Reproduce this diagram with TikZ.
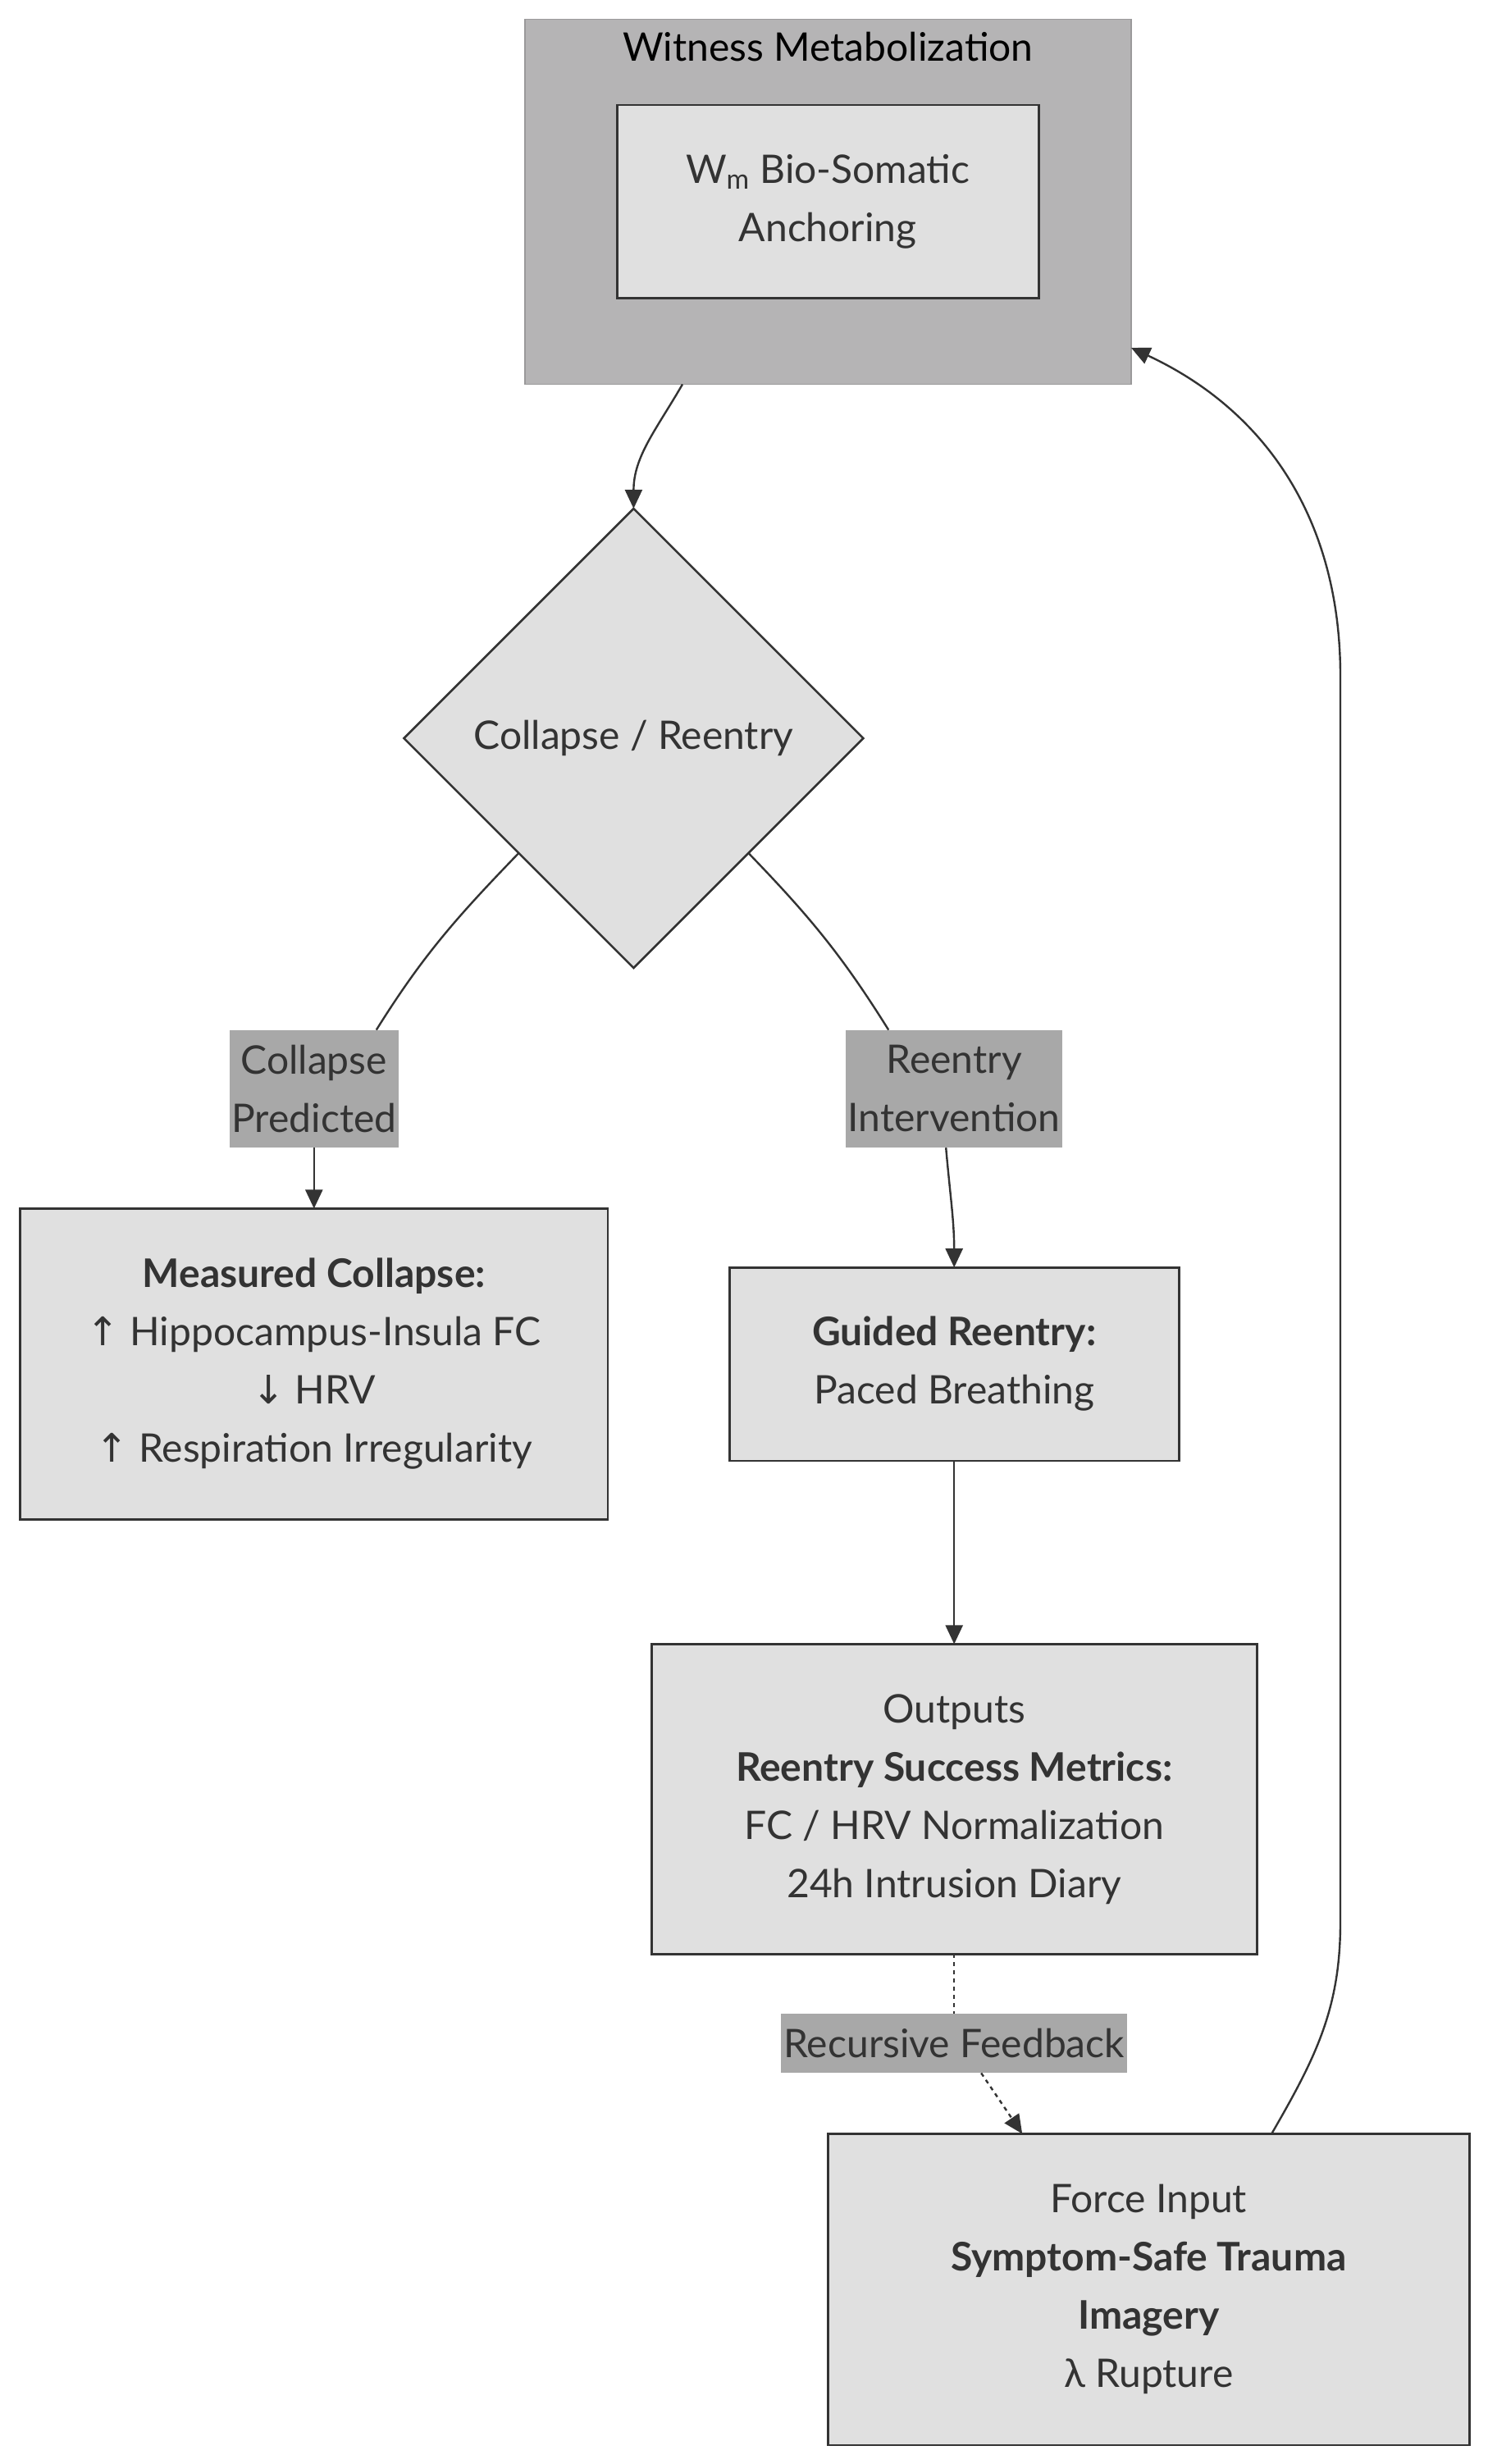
\documentclass[tikz,border=0pt]{standalone}
\usepackage{fontspec}
\setmainfont{Lato}
\newfontfamily\arrowfont{DejaVu Sans}
\usepackage{tikz}
\usetikzlibrary{shapes.geometric, arrows.meta, positioning}
\definecolor{boxgray}{HTML}{E0E0E0}
\definecolor{clustergray}{HTML}{B5B4B5}
\definecolor{labelgray}{HTML}{A8A8A8}
\definecolor{inkgray}{HTML}{333333}
\tikzset{
  box/.style={draw=inkgray, line width=1.3pt, fill=boxgray, text=inkgray, align=center, inner sep=0pt, outer sep=0pt},
  lbl/.style={fill=labelgray, text=inkgray, align=center, inner sep=0pt, outer sep=0pt},
  link/.style={draw=inkgray, line width=1.2pt},
  arr/.style={link, -{Triangle[length=11.5pt,width=10.5pt]}},
}
\begin{document}
\begin{tikzpicture}[x=1pt, y=1pt, font=\fontsize{24}{35.5}\selectfont]
\useasboundingbox (0,0) rectangle (907,-1502);
\node[fill=clustergray, draw=clustergray!85!black, line width=0.9pt, outer sep=0pt, minimum width=369.6pt, minimum height=222.5pt] (wm) at (504.7,-123) {};
\node[text=black] (wmtitle) at ([yshift=-16.6pt]wm.north) {Witness Metabolization};
\node[box, minimum width=257pt, minimum height=117.7pt] (wmbio) at (504.6,-122.8) {W$_\mathrm{m}$ Bio-Somatic\\Anchoring};
\node[box, diamond, minimum size=280pt] (cr) at (386.2,-450) {Collapse / Reentry};
\node[lbl, minimum width=103.3pt, minimum height=71.8pt] (cp) at (191.4,-663.7) {Collapse\\Predicted};
\node[lbl, minimum width=132pt, minimum height=71.8pt] (ri) at (581.6,-663.7) {Reentry\\Intervention};
\node[box, minimum width=358.3pt, minimum height=189.4pt, below=37.1pt of cp] (mc) {\textbf{Measured Collapse:}\\{\arrowfont↑} Hippocampus-Insula FC\\{\arrowfont↓} HRV\\{\arrowfont↑} Respiration Irregularity};
\node[box, minimum width=274pt, minimum height=117.8pt, below=73pt of ri] (gr) {\textbf{Guided Reentry:}\\Paced Breathing};
\node[box, minimum width=369pt, minimum height=189pt, below=111.8pt of gr] (out) {Outputs\\\textbf{Reentry Success Metrics:}\\FC / HRV Normalization\\24h Intrusion Diary};
\node[lbl, minimum width=211pt, minimum height=36pt, below=36.5pt of out] (fb) {Recursive Feedback};
\node[box, minimum width=391pt, minimum height=189.8pt, below=37pt of fb, xshift=118.5pt] (fi) {Force Input\\\textbf{Symptom-Safe Trauma}\\\textbf{Imagery}\\λ Rupture};
\coordinate (fbup) at (817,-1172);
\coordinate (fbtop) at (817,-412);
\draw[arr] ([xshift=-88.7pt]wm.south) to[out=-120,in=90] (cr.north);
\draw[link] (cr.south west) to[out=-134,in=58] ([xshift=38pt]cp.north);
\draw[link] (cr.south east) to[out=-46,in=122] ([xshift=-40pt]ri.north);
\draw[arr] (cp.south) -- (mc.north);
\draw[arr] ([xshift=-5pt]ri.south) to[out=-85,in=90] (gr.north);
\draw[arr] (gr) -- (out);
\draw[link, dash pattern=on 2.5pt off 2.5pt] (out) -- (fb);
\draw[arr, dash pattern=on 2.5pt off 2.5pt] ([xshift=16.5pt]fb.south) -- ([xshift=-77pt]fi.north);
\draw[arr] ([xshift=75pt]fi.north) to[out=60,in=-90] (fbup) -- (fbtop) to[out=90,in=-25] ([yshift=-89pt]wm.east);
\end{tikzpicture}
\end{document}
